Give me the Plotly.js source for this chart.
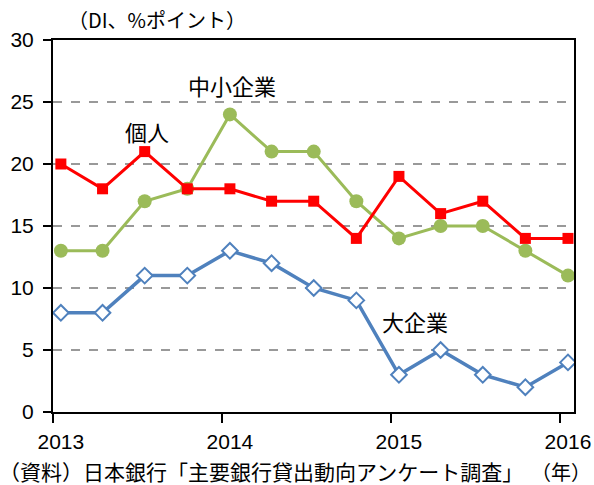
<!DOCTYPE html>
<html>
<head>
<meta charset="utf-8">
<script src="https://cdn.plot.ly/plotly-3.0.1.min.js"></script>
<style>html,body{margin:0;padding:0;background:#fff;}#chart{width:594px;height:485px;}</style>
</head>
<body>
<div id="chart"></div>
<script>
// Survey dates (quarterly, 2013Q1 - 2016Q1)
const dates = ['2013-01-18','2013-04-18','2013-07-18','2013-10-18',
               '2014-01-18','2014-04-18','2014-07-18','2014-10-18',
               '2015-01-18','2015-04-18','2015-07-18','2015-10-18',
               '2016-01-18'];
const largeFirms = [8, 8, 11, 11, 13, 12, 10, 9, 3, 5, 3, 2, 4];        // 大企業
const individuals = [20, 18, 21, 18, 18, 17, 17, 14, 19, 16, 17, 14, 14]; // 個人
const smeFirms = [13, 13, 17, 18, 24, 21, 21, 17, 14, 15, 15, 13, 11];    // 中小企業
const yearLabelPos = ['2013-01-18','2014-01-18','2015-01-18','2016-01-18'];
const yearLabels = ['2013','2014','2015','2016'];
const yearTicks = ['2013-01-01','2014-01-01','2015-01-01','2016-01-01'];

const jp = '"Noto Sans CJK JP", sans-serif';
const num = '"Liberation Sans", Arial, sans-serif';

const traces = [
  {x: dates, y: smeFirms, name: '中小企業', mode: 'lines+markers',
   line: {color: '#9BBB59', width: 3},
   marker: {symbol: 'circle', size: 14, color: '#9BBB59'}},
  {x: dates, y: individuals, name: '個人', mode: 'lines+markers',
   line: {color: '#FF0000', width: 3},
   marker: {symbol: 'square', size: 11, color: '#FF0000'}},
  {x: dates, y: largeFirms, name: '大企業', mode: 'lines+markers',
   line: {color: '#4F81BD', width: 3.5},
   marker: {symbol: 'diamond', size: 12, color: '#FFFFFF', line: {color: '#4F81BD', width: 2}}}
];

const layout = {
  width: 594, height: 485,
  margin: {l: 53, r: 20, t: 40, b: 73},
  paper_bgcolor: '#fff', plot_bgcolor: '#fff',
  showlegend: false,
  xaxis: {
    type: 'date',
    range: ['2013-01-01', '2016-01-31'],
    tickmode: 'array', tickvals: yearLabelPos, ticktext: yearLabels,
    ticks: '', showgrid: false, zeroline: false,
    showline: true, linecolor: '#000', linewidth: 2, mirror: true,
    ticklabelstandoff: 10,
    tickfont: {family: num, size: 21, color: '#000'},
    minor: {tickmode: 'array', tickvals: yearTicks, ticks: 'outside',
            ticklen: 9, tickwidth: 2, tickcolor: '#000', showgrid: false}
  },
  yaxis: {
    range: [0, 30], dtick: 5, tick0: 0,
    ticks: 'outside', ticklen: 8, tickwidth: 2, tickcolor: '#000',
    showline: true, linecolor: '#000', linewidth: 2, mirror: true,
    showgrid: true, gridcolor: '#999', gridwidth: 1.5, griddash: 'dash',
    zeroline: false,
    ticklabelstandoff: 5,
    tickfont: {family: num, size: 21, color: '#000'}
  },
  annotations: [
    {text: '（DI、%ポイント）', xref: 'paper', yref: 'paper', x: 0.024, y: 1.054,
     xanchor: 'left', yanchor: 'middle', showarrow: false,
     font: {family: jp, size: 20, color: '#000'}},
    {text: '中小企業', xref: 'x', yref: 'y', x: '2014-01-22', y: 26.4,
     showarrow: false, font: {family: jp, size: 22, color: '#000'}},
    {text: '個人', xref: 'x', yref: 'y', x: '2013-07-22', y: 22.7,
     showarrow: false, font: {family: jp, size: 22, color: '#000'}},
    {text: '大企業', xref: 'x', yref: 'y', x: '2015-02-21', y: 7.3,
     showarrow: false, font: {family: jp, size: 22, color: '#000'}},
    {text: '（資料）日本銀行「主要銀行貸出動向アンケート調査」', xref: 'paper', yref: 'paper',
     x: -0.107, y: -0.158, xanchor: 'left', yanchor: 'middle', showarrow: false,
     font: {family: jp, size: 21, color: '#000'}},
    {text: '（年）', xref: 'paper', yref: 'paper', x: 1.037, y: -0.16,
     xanchor: 'right', yanchor: 'middle', showarrow: false,
     font: {family: jp, size: 20, color: '#000'}}
  ]
};

Plotly.newPlot('chart', traces, layout, {displayModeBar: false, staticPlot: true});
</script>
</body>
</html>
